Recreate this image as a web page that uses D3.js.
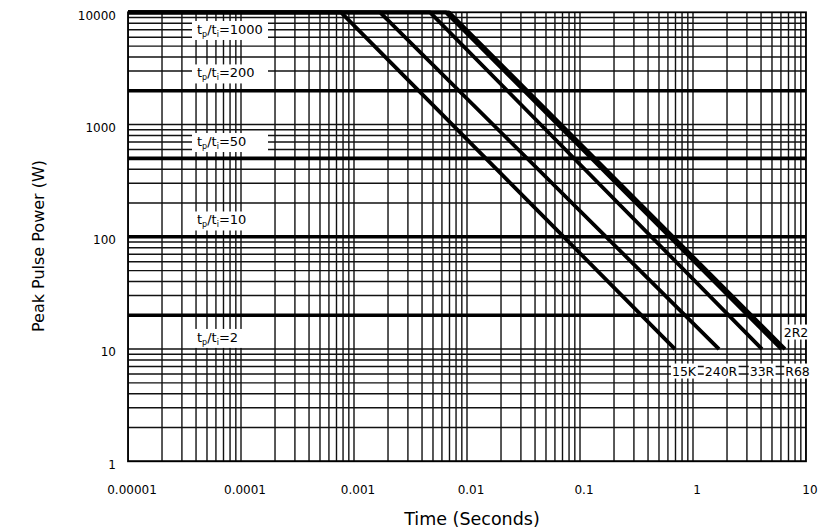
<!DOCTYPE html>
<html><head><meta charset="utf-8">
<script src="https://cdn.jsdelivr.net/npm/d3@7"></script>
<style>
body{margin:0;background:#fff}
svg{display:block}
text, tspan{font-family:"DejaVu Sans",sans-serif;fill:#000}
</style>
</head><body>
<svg id="c" width="823" height="531"></svg>
<script>
// ---- data ----
const xTickValues = [1e-5, 1e-4, 1e-3, 1e-2, 1e-1, 1, 10];
const xTickLabels = ["0.00001", "0.0001", "0.001", "0.01", "0.1", "1", "10"];
const yTickValues = [1, 10, 100, 1000, 10000];
const yTickLabels = ["1", "10", "100", "1000", "10000"];

const seriesNames = ["15K", "240R", "33R", "R68", "2R2"];
const kneeTime = [7.67e-4, 1.70e-3, 4.71e-3, 6.52e-3, 6.93e-3];
const endTime = [0.693, 1.70, 4.08, 6.07, 6.52];
const maxPower = 10000;
const endPower = 10;

const ratioValues = [1000, 200, 50, 10, 2];
const ratioPower = [10000, 2000, 500, 100, 20];

// ---- layout ----
const W = 823, H = 531;
const L = 128, R = 806, T = 12.3, B = 461.3;
const ratioLabelX = 197;
const ratioLabelDy = [17, -18, -17, -17, 22];
const seriesLabelDx = [9, 2, 0, 16, 11];
const seriesLabelDy = [22, 22, 22, 22, -17];

const svg = d3.select("#c");
svg.append("rect").attr("width", W).attr("height", H).attr("fill", "#fff");

const x = d3.scaleLog().domain([1e-5, 10]).range([L, R]);
const y = d3.scaleLog().domain([1, 10000]).range([B, T]);

svg.append("clipPath").attr("id", "clip").append("rect")
  .attr("x", L).attr("y", T).attr("width", R - L).attr("height", B - T);

const grid = svg.append("g").attr("clip-path", "url(#clip)");
grid.selectAll("line.v").data(x.ticks()).join("line")
  .attr("x1", d => x(d)).attr("x2", d => x(d)).attr("y1", T).attr("y2", B)
  .attr("stroke", "#111").attr("stroke-width", 1.4);
grid.selectAll("line.h").data(y.ticks()).join("line")
  .attr("y1", d => y(d)).attr("y2", d => y(d)).attr("x1", L).attr("x2", R)
  .attr("stroke", "#111").attr("stroke-width", 1.4);

// border
svg.append("rect").attr("x", L).attr("y", T).attr("width", R - L).attr("height", B - T)
  .attr("fill", "none").attr("stroke", "#000").attr("stroke-width", 1.8);

// thick ratio lines (the 10000 row is formed by the series plateaus)
const ratioG = svg.append("g");
ratioPower.forEach((p, i) => {
  if (p >= maxPower) return;
  ratioG.append("line").attr("x1", L).attr("x2", R).attr("y1", y(p)).attr("y2", y(p))
    .attr("stroke", "#000").attr("stroke-width", 3.6);
});

// series lines
const line = d3.line().x(d => x(d[0])).y(d => y(d[1]));
seriesNames.forEach((n, i) => {
  const pts = [[1e-5, maxPower], [kneeTime[i], maxPower], [endTime[i], endPower]];
  svg.append("path").attr("d", line(pts)).attr("fill", "none")
    .attr("stroke", "#000").attr("stroke-width", 3.8).attr("stroke-linejoin", "round");
});

// ratio labels
ratioValues.forEach((r, i) => {
  const g = svg.append("g");
  const cy = y(ratioPower[i]) + ratioLabelDy[i];
  const t = g.append("text").attr("x", ratioLabelX).attr("y", cy).attr("dy", "0.36em")
    .attr("font-size", 13);
  t.append("tspan").text("t");
  t.append("tspan").attr("font-size", 8).attr("dy", 3).text("p");
  t.append("tspan").attr("dy", -3).text("/t");
  t.append("tspan").attr("font-size", 8).attr("dy", 3).text("i");
  t.append("tspan").attr("dy", -3).text("=" + r);
  const bb = t.node().getBBox();
  g.insert("rect", "text").attr("x", ratioLabelX - 5).attr("y", bb.y - 1)
    .attr("width", 76).attr("height", bb.height + 2).attr("fill", "#fff");
});

// series labels
seriesNames.forEach((n, i) => {
  const g = svg.append("g");
  const t = g.append("text").attr("x", x(endTime[i]) + seriesLabelDx[i])
    .attr("y", y(endPower) + seriesLabelDy[i]).attr("dy", "0.36em")
    .attr("text-anchor", "middle").attr("font-size", 12.5).text(n);
  const bb = t.node().getBBox();
  g.insert("rect", "text").attr("x", bb.x - 1).attr("y", bb.y)
    .attr("width", bb.width + 2).attr("height", bb.height).attr("fill", "#fff");
});

// axes labels
svg.append("g").selectAll("text").data(xTickValues).join("text")
  .attr("x", (d, i) => x(d) + 4).attr("y", 490).attr("dy", "0.36em")
  .attr("text-anchor", "middle").attr("font-size", 12).text((d, i) => xTickLabels[i]);
svg.append("g").selectAll("text").data(yTickValues).join("text")
  .attr("x", 116).attr("y", d => y(d) + 3).attr("dy", "0.36em")
  .attr("text-anchor", "end").attr("font-size", 12).text((d, i) => yTickLabels[i]);

svg.append("text").attr("x", 472).attr("y", 519).attr("dy", "0.36em")
  .attr("text-anchor", "middle").attr("font-size", 17.5).text("Time (Seconds)");
svg.append("text").attr("transform", "translate(38,246) rotate(-90)").attr("dy", "0.36em")
  .attr("text-anchor", "middle").attr("font-size", 16).text("Peak Pulse Power (W)");
</script>
</body></html>
